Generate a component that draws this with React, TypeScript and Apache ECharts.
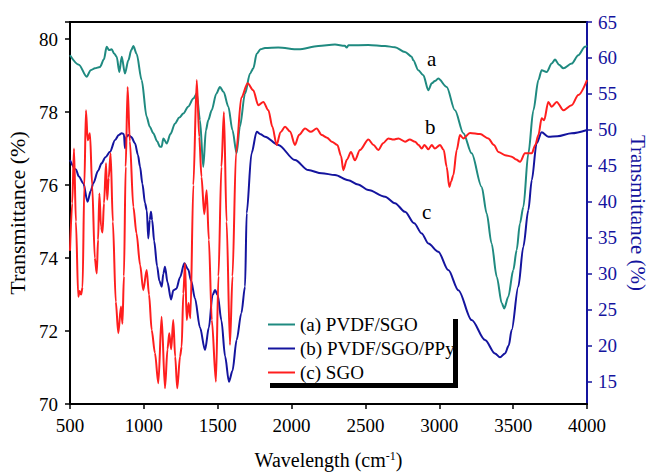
import React, { useEffect, useRef } from "react";
import * as echarts from "echarts";

const xTicks = { min: 500, max: 4000, interval: 500 };
const rightTicks = [15, 20, 25, 30, 35, 40, 45, 50, 55, 60, 65];

// (a) PVDF/SGO  [wavenumber, transmittance %] (left axis)
const seriesA: [number, number][] = [
  [500, 79.56], [560, 79.3], [613, 78.97], [640, 79.15], [669, 79.2], [703, 79.24], [730, 79.45],
  [748, 79.79], [765, 79.7], [782, 79.72], [800, 79.6], [816, 79.52], [834, 79.1], [850, 79.52],
  [872, 79.06], [895, 79.42], [915, 79.7], [929, 79.81], [951, 79.6], [985, 78.88], [1019, 77.87],
  [1040, 77.6], [1064, 77.42], [1090, 77.2], [1109, 77.05], [1120, 77.05], [1132, 77.28],
  [1155, 77.14], [1180, 77.4], [1211, 77.69], [1240, 77.85], [1267, 77.96], [1300, 78.15],
  [1335, 78.37], [1358, 78.51], [1380, 77.78], [1402, 76.5], [1420, 77.5], [1436, 77.78],
  [1459, 78.05], [1490, 78.5], [1515, 78.69], [1540, 78.55], [1572, 78.15], [1600, 77.5],
  [1628, 76.87], [1650, 77.6], [1685, 78.51], [1719, 79.06], [1741, 79.2], [1764, 79.6],
  [1790, 79.72], [1820, 79.76], [1910, 79.77], [2046, 79.72], [2181, 79.81], [2294, 79.85],
  [2360, 79.82], [2373, 79.77], [2385, 79.83], [2520, 79.84], [2633, 79.81], [2700, 79.78],
  [2768, 79.65], [2813, 79.52], [2824, 79.42], [2858, 79.15], [2892, 79.01], [2926, 78.6],
  [2949, 78.79], [2970, 78.85], [2993, 78.92], [3050, 78.69], [3106, 78.05], [3163, 77.42],
  [3219, 76.87], [3287, 75.95], [3321, 75.22], [3354, 74.4], [3389, 73.49], [3423, 72.76],
  [3440, 72.62], [3467, 72.94], [3501, 73.67], [3524, 74.22], [3546, 74.95], [3569, 75.4],
  [3603, 76.87], [3637, 78.05], [3671, 78.88], [3693, 79.15], [3727, 79.1], [3761, 79.33],
  [3784, 79.44], [3810, 79.3], [3840, 79.2], [3896, 79.33], [3941, 79.56], [3986, 79.79],
  [4000, 79.82],
];

// (b) PVDF/SGO/PPy  [wavenumber, transmittance %] (right axis)
const seriesB: [number, number][] = [
  [500, 45.8], [540, 44.5], [560, 43.5], [590, 42.57], [619, 40.0], [640, 41.5], [658, 42.57],
  [690, 44.3], [714, 45.35], [740, 46.2], [771, 46.96], [805, 48.59], [830, 49.3], [850, 49.52],
  [865, 49.4], [872, 47.43], [880, 49.0], [895, 49.28], [915, 49.0], [940, 48.13], [960, 46.5],
  [974, 44.9], [990, 42.5], [1008, 39.8], [1020, 38.8], [1030, 34.9], [1040, 37.5], [1048, 38.6],
  [1056, 37.46], [1070, 34.5], [1090, 31.0], [1105, 29.0], [1121, 28.19], [1132, 30.0],
  [1143, 30.97], [1160, 28.8], [1184, 26.4], [1200, 27.7], [1220, 27.9], [1245, 29.5],
  [1274, 31.44], [1300, 30.6], [1320, 29.0], [1346, 26.57], [1380, 22.5], [1414, 19.38],
  [1440, 22.5], [1465, 27.0], [1482, 27.73], [1500, 27.0], [1525, 23.5], [1550, 18.5],
  [1576, 14.97], [1600, 16.5], [1628, 20.77], [1660, 24.5], [1685, 28.2], [1696, 38.4],
  [1729, 46.74], [1764, 49.74], [1790, 49.4], [1820, 49.05], [1910, 47.9], [2023, 45.8],
  [2113, 44.4], [2204, 43.96], [2294, 43.72], [2384, 43.0], [2450, 42.4], [2520, 41.63],
  [2633, 40.7], [2700, 39.8], [2768, 38.6], [2830, 37.0], [2881, 35.6], [2926, 34.2],
  [2993, 33.05], [3061, 30.5], [3129, 27.7], [3219, 23.55], [3310, 20.77], [3377, 18.9],
  [3411, 18.36], [3445, 18.9], [3470, 20.0], [3490, 22.16], [3535, 28.2], [3569, 33.75],
  [3603, 38.85], [3626, 43.0], [3659, 48.13], [3693, 49.66], [3738, 49.05], [3800, 49.1],
  [3896, 49.52], [4000, 49.98],
];

// (c) SGO  [wavenumber, transmittance %] (left axis)
const seriesC: [number, number][] = [
  [500, 74.2], [515, 75.5], [527, 77.0], [540, 75.0], [556, 72.94], [565, 73.1], [575, 73.0],
  [585, 73.2], [597, 76.0], [608, 78.05], [620, 77.23], [635, 77.42], [650, 76.0], [668, 74.0],
  [681, 73.58], [690, 74.5], [699, 75.77], [710, 74.86], [720, 74.7], [730, 75.5], [744, 76.6],
  [752, 75.6], [762, 76.2], [775, 76.87], [790, 75.0], [810, 72.8], [827, 71.94], [845, 72.67],
  [855, 72.2], [865, 73.5], [877, 76.5], [890, 78.69], [905, 77.2], [929, 75.4], [950, 74.68],
  [975, 73.8], [996, 73.12], [1019, 73.67], [1035, 73.0], [1053, 72.03], [1075, 71.4],
  [1098, 70.57], [1120, 72.39], [1143, 70.43], [1160, 71.5], [1172, 71.94], [1185, 71.5],
  [1199, 72.3], [1212, 71.3], [1226, 70.43], [1245, 71.3], [1256, 71.57], [1267, 73.03],
  [1279, 73.85], [1290, 72.3], [1303, 72.77], [1315, 72.35], [1335, 76.0], [1358, 78.88],
  [1375, 77.32], [1390, 76.23], [1409, 75.2], [1425, 75.86], [1440, 74.5], [1460, 72.3],
  [1488, 70.61], [1505, 73.5], [1525, 76.5], [1542, 78.0], [1560, 75.0], [1583, 71.62],
  [1600, 73.5], [1624, 76.88], [1660, 78.4], [1703, 78.79], [1740, 78.6], [1775, 78.19],
  [1809, 78.28], [1843, 78.05], [1870, 77.6], [1899, 77.1], [1925, 77.45], [1956, 77.6],
  [1990, 77.47], [2023, 77.1], [2050, 77.37], [2091, 77.55], [2130, 77.46], [2170, 77.55],
  [2204, 77.37], [2240, 77.3], [2272, 77.19], [2310, 77.1], [2335, 76.8], [2350, 76.41],
  [2375, 76.7], [2402, 76.91], [2429, 76.68], [2463, 76.96], [2520, 77.25], [2555, 77.1],
  [2587, 76.96], [2620, 77.15], [2655, 77.28], [2690, 77.25], [2723, 77.28], [2768, 77.19],
  [2800, 77.25], [2836, 77.19], [2860, 77.1], [2881, 77.0], [2900, 77.1], [2926, 76.98],
  [2949, 77.1], [2970, 77.0], [3005, 77.1], [3030, 76.96], [3050, 76.5], [3068, 75.95],
  [3080, 76.1], [3095, 76.27], [3118, 76.96], [3140, 77.37], [3163, 77.28], [3208, 77.43],
  [3276, 77.4], [3332, 77.28], [3370, 77.1], [3400, 76.91], [3445, 76.82], [3490, 76.78],
  [3520, 76.7], [3547, 76.64], [3580, 76.87], [3626, 76.87], [3650, 77.1], [3671, 77.37],
  [3693, 77.83], [3710, 77.78], [3738, 78.28], [3760, 78.15], [3795, 78.28], [3840, 78.05],
  [3896, 78.19], [3941, 78.47], [4000, 78.88],
];

const seriesNames = ["(a) PVDF/SGO", "(b) PVDF/SGO/PPy", "(c) SGO"];
const curveLabels = ["a", "b", "c"];

const FONT = "Liberation Serif";
const TEAL = "#1f8a80";
const NAVY = "#14149e";
const RED = "#ff1e1e";

export default function App() {
  const ref = useRef<HTMLDivElement>(null);
  useEffect(() => {
    if (!ref.current) return;
    const chart = echarts.init(ref.current, null, { renderer: "svg" });
    const intOnly = (v: number) => (Math.abs(v - Math.round(v)) < 1e-6 ? String(Math.round(v)) : "");
    chart.setOption({
      animation: false,
      backgroundColor: "#fff",
      textStyle: { fontFamily: FONT },
      grid: {
        left: 70, right: 62, top: 22, bottom: 70, containLabel: false, outerBoundsMode: "none",
        show: true, borderColor: "#000", borderWidth: 2,
      },
      legend: {
        orient: "vertical",
        left: 268,
        top: 315,
        padding: 0,
        icon: "rect",
        itemWidth: 27,
        itemHeight: 2,
        itemGap: 5,
        textStyle: { fontFamily: FONT, fontSize: 19, color: "#000" },
        data: seriesNames,
      },
      xAxis: {
        type: "value",
        min: xTicks.min,
        max: xTicks.max,
        interval: xTicks.interval,
        name: "{n|Wavelength (cm}{s|-1}{n|)}",
        nameLocation: "middle",
        nameGap: 46,
        nameTextStyle: {
          fontFamily: FONT,
          rich: {
            n: { fontFamily: FONT, fontSize: 20, color: "#000" },
            s: { fontFamily: FONT, fontSize: 12, color: "#000", verticalAlign: "top" },
          },
        },
        axisLine: { onZero: false, lineStyle: { color: "#000", width: 2 } },
        axisTick: { inside: false, length: 5, lineStyle: { color: "#000", width: 1.5 } },
        axisLabel: { fontFamily: FONT, fontSize: 19, color: "#000", margin: 12, formatter: (v: number) => String(v) },
        splitLine: { show: false },
      },
      yAxis: [
        {
          type: "value",
          position: "left",
          min: 70,
          max: 80.47,
          interval: 2,
          name: "Transmittance (%)",
          nameLocation: "middle",
          nameGap: 38,
          nameTextStyle: { fontFamily: FONT, fontSize: 22, color: "#000" },
          axisLine: { show: true, onZero: false, lineStyle: { color: "#000", width: 2 } },
          axisTick: { show: true, length: 5, lineStyle: { color: "#000", width: 1.5 } },
          axisLabel: { fontFamily: FONT, fontSize: 19, color: "#000", margin: 12, formatter: intOnly },
          splitLine: { show: false },
        },
        {
          type: "value",
          position: "right",
          min: 11.87,
          max: 65,
          name: "Transmittance (%)",
          nameLocation: "middle",
          nameGap: 37,
          nameRotate: -90,
          nameTextStyle: { fontFamily: FONT, fontSize: 21, color: NAVY },
          axisLine: { show: true, onZero: false, lineStyle: { color: NAVY, width: 2 } },
          axisTick: { show: true, length: 5, customValues: rightTicks, lineStyle: { color: NAVY, width: 1.5 } },
          axisLabel: {
            fontFamily: FONT, fontSize: 19, color: NAVY, margin: 11, customValues: rightTicks,
            formatter: (v: number) => String(v),
          },
          splitLine: { show: false },
        },
      ],
      series: [
        {
          name: seriesNames[0], type: "line", yAxisIndex: 0, data: seriesA, symbol: "none",
          smooth: 0.3, smoothMonotone: "x", color: TEAL, lineStyle: { color: TEAL, width: 2 }, z: 3,
        },
        {
          name: seriesNames[1], type: "line", yAxisIndex: 1, data: seriesB, symbol: "none",
          smooth: 0.3, smoothMonotone: "x", color: NAVY, lineStyle: { color: NAVY, width: 2 }, z: 2,
        },
        {
          name: seriesNames[2], type: "line", yAxisIndex: 0, data: seriesC, symbol: "none",
          smooth: 0.3, smoothMonotone: "x", color: RED, lineStyle: { color: RED, width: 2 }, z: 4,
        },
      ],
      graphic: [
        { type: "text", left: 427, top: 48, style: { text: curveLabels[0], font: `21px ${FONT}`, fill: "#000" } },
        { type: "text", left: 425, top: 116, style: { text: curveLabels[1], font: `21px ${FONT}`, fill: "#000" } },
        { type: "text", left: 422, top: 201, style: { text: curveLabels[2], font: `21px ${FONT}`, fill: "#000" } },
        { type: "rect", shape: { x: 270, y: 383, width: 188, height: 5 }, style: { fill: "#000" }, z: 10 },
        { type: "rect", shape: { x: 453, y: 319, width: 5, height: 69 }, style: { fill: "#000" }, z: 10 },
      ],
    });
    return () => chart.dispose();
  }, []);
  return <div ref={ref} style={{ width: 649, height: 474, position: "absolute", left: 0, top: 0 }} />;
}
